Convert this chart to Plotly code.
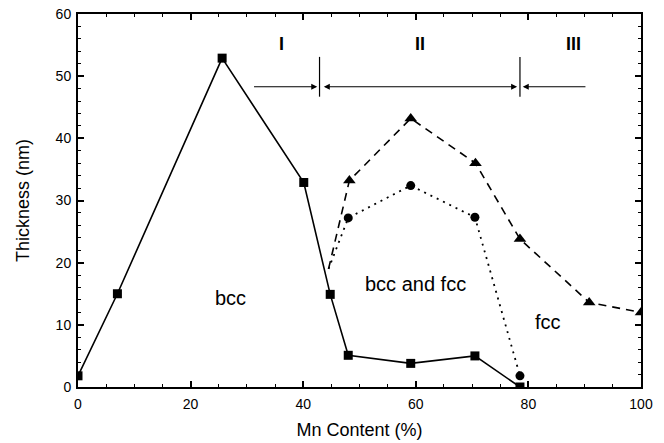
import plotly.graph_objects as go

# Data
bcc_x = [0, 7, 25.6, 40.1, 44.8, 48.0, 59.1, 70.5, 78.5]
bcc_y = [1.8, 15.0, 52.9, 32.9, 14.9, 5.1, 3.8, 5.0, 0.0]

tri_x = [44.5, 48.2, 59.1, 70.6, 78.5, 90.8, 100]
tri_y = [19.0, 33.2, 43.2, 36.0, 23.8, 13.6, 12.0]

cir_x = [44.5, 48.0, 59.1, 70.5, 78.5]
cir_y = [19.0, 27.2, 32.4, 27.3, 1.8]

region_labels = ["I", "II", "III"]
region_x = [36.2, 60.8, 88.0]
phase_labels = ["bcc", "bcc and fcc", "fcc"]
phase_x = [27.0, 59.9, 83.4]
phase_y = [14.3, 16.6, 10.5]
boundary_x = [42.9, 78.5]

FONT = "Liberation Sans, Arial, sans-serif"
NARROW = "Liberation Sans Narrow, Liberation Sans, Arial, sans-serif"

fig = go.Figure()
# bcc series
fig.add_trace(go.Scatter(x=bcc_x, y=bcc_y, mode="lines",
                         line=dict(color="black", width=1.6), showlegend=False))
fig.add_trace(go.Scatter(x=bcc_x, y=bcc_y, mode="markers",
                         marker=dict(symbol="square", size=9, color="black",
                                     line=dict(width=0)),
                         showlegend=False))
# triangle series (first point is the junction, no marker)
fig.add_trace(go.Scatter(x=tri_x, y=tri_y, mode="lines",
                         line=dict(color="black", width=1.6, dash="8px,6px"),
                         showlegend=False))
fig.add_trace(go.Scatter(x=tri_x[1:], y=tri_y[1:], mode="markers",
                         marker=dict(symbol="triangle-up", size=11, color="black",
                                     line=dict(width=0)),
                         showlegend=False))
# circle series
fig.add_trace(go.Scatter(x=cir_x, y=cir_y, mode="lines",
                         line=dict(color="black", width=1.8, dash="2px,5px"),
                         showlegend=False))
fig.add_trace(go.Scatter(x=cir_x[1:], y=cir_y[1:], mode="markers",
                         marker=dict(symbol="circle", size=9, color="black",
                                     line=dict(width=0)),
                         showlegend=False))

arrow_y = 48.3
for bx in boundary_x:
    fig.add_shape(type="line", x0=bx, x1=bx, y0=46.7, y1=53.1,
                  line=dict(color="black", width=1.2))

arrow_common = dict(xref="x", yref="y", axref="x", ayref="y", text="",
                    showarrow=True, arrowcolor="black", arrowwidth=1.2,
                    arrowhead=2, arrowsize=1.0)
fig.add_annotation(x=42.5, y=arrow_y, ax=31.0, ay=arrow_y, **arrow_common)
fig.add_annotation(x=78.0, y=arrow_y, ax=43.4, ay=arrow_y, arrowside="end+start",
                   **arrow_common)
fig.add_annotation(x=79.0, y=arrow_y, ax=90.4, ay=arrow_y, **arrow_common)

for lab, xx in zip(region_labels, region_x):
    fig.add_annotation(x=xx, y=55.2, text=f"<b>{lab}</b>", showarrow=False,
                       font=dict(family=NARROW, size=18, color="black"))
for lab, xx, yy in zip(phase_labels, phase_x, phase_y):
    fig.add_annotation(x=xx, y=yy, text=lab, showarrow=False,
                       font=dict(family=FONT, size=20, color="black"))

axis_common = dict(showline=True, linecolor="black", linewidth=2, mirror="allticks",
                   ticks="inside", ticklen=6, tickwidth=1.5, tickcolor="black",
                   showgrid=False, zeroline=False, automargin=False,
                   tickfont=dict(family=FONT, size=14, color="black"),
                   minor=dict(ticks="inside", ticklen=3, tickwidth=1, tickcolor="black"))

fig.update_xaxes(range=[0, 100], dtick=20, tick0=0, ticklabelstandoff=3,
                 title=dict(text="Mn Content (%)", font=dict(family=FONT, size=18, color="black"),
                            standoff=13),
                 **axis_common)
fig.update_yaxes(range=[0, 60], dtick=10, tick0=0, ticklabelstandoff=2,
                 title=dict(text="Thickness (nm)", font=dict(family=FONT, size=18, color="black"),
                            standoff=21),
                 **axis_common)

fig.update_layout(width=664, height=443, plot_bgcolor="white", paper_bgcolor="white",
                  margin=dict(l=78, r=23, t=14, b=56), showlegend=False)

fig.write_html("out.html")
